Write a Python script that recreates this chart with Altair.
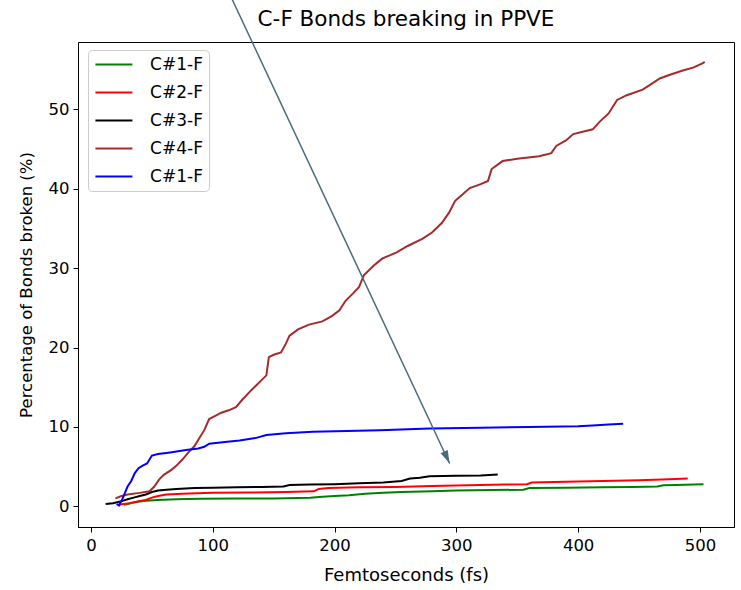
import altair as alt
import pandas as pd

# ---- series data: time (fs) and percentage of C-F bonds broken ----
series_labels = ["C#1-F", "C#2-F", "C#3-F", "C#4-F", "C#1-F"]
series_colors = ["green", "red", "black", "brown", "blue"]

green_fs = [27, 30, 35, 40, 45, 55, 70, 90, 120, 150, 180, 190, 200, 212, 225,
            240, 255, 280, 300, 330, 355, 360, 390, 420, 445, 465, 470, 480, 495, 503]
green_pct = [0.2, 0.3, 0.5, 0.6, 0.7, 0.8, 0.9, 0.95, 1.0, 1.0, 1.1, 1.2, 1.3, 1.4, 1.6,
             1.7, 1.8, 1.9, 2.0, 2.05, 2.1, 2.3, 2.35, 2.4, 2.45, 2.5, 2.65, 2.7, 2.75, 2.8]

red_fs = [22, 27, 32, 38, 45, 50, 55, 62, 75, 100, 130, 160, 183, 187, 195,
          220, 250, 280, 310, 340, 358, 362, 390, 420, 450, 475, 490]
red_pct = [0.2, 0.3, 0.4, 0.6, 0.8, 1.1, 1.3, 1.5, 1.6, 1.7, 1.75, 1.8, 1.9, 2.2, 2.3,
           2.4, 2.45, 2.55, 2.65, 2.75, 2.8, 3.0, 3.1, 3.2, 3.3, 3.4, 3.5]

black_fs = [12, 18, 24, 30, 35, 40, 45, 50, 55, 62, 70, 85, 100, 120, 140,
            158, 163, 180, 200, 220, 240, 255, 262, 270, 278, 300, 320, 334]
black_pct = [0.3, 0.4, 0.6, 0.9, 1.1, 1.3, 1.5, 1.8, 2.0, 2.1, 2.2, 2.3, 2.35, 2.4, 2.45,
             2.5, 2.7, 2.75, 2.8, 2.9, 3.0, 3.2, 3.5, 3.6, 3.8, 3.85, 3.9, 4.0]

brown_fs = [20, 25, 30, 40, 48, 52, 56, 60, 66, 70, 75, 80, 85, 89, 93,
            97, 102, 107, 113, 119, 124, 132, 136, 140, 144, 146, 150, 156, 160, 163,
            170, 179, 190, 198, 204, 209, 215, 220, 224, 232, 239, 251, 260, 272, 280,
            288, 294, 299, 305, 311, 320, 326, 329, 338, 350, 368, 378, 382, 390, 396,
            412, 418, 425, 432, 440, 453, 460, 467, 476, 486, 495, 502, 504]
brown_pct = [1.0, 1.3, 1.5, 1.7, 1.9, 2.5, 3.4, 4.0, 4.6, 5.1, 5.9, 6.8, 7.6, 8.6, 9.6,
             11.0, 11.4, 11.8, 12.1, 12.5, 13.4, 14.7, 15.3, 15.9, 16.5, 18.8, 19.1, 19.4, 20.5, 21.5,
             22.3, 22.9, 23.3, 24.0, 24.7, 25.9, 26.8, 27.6, 29.1, 30.3, 31.2, 32.0, 32.8, 33.7, 34.5,
             35.7, 37.0, 38.5, 39.3, 40.1, 40.6, 41.0, 42.5, 43.5, 43.8, 44.1, 44.5, 45.4, 46.1, 46.9,
             47.5, 48.5, 49.5, 51.2, 51.8, 52.5, 53.2, 53.9, 54.4, 54.9, 55.3, 55.8, 56.0]

blue_fs = [21, 23, 26, 30, 33, 36, 39, 42, 46, 50, 55, 65, 78, 88, 93,
           97, 110, 122, 135, 144, 160, 182, 210, 237, 278, 320, 360, 400, 412, 425, 437]
blue_pct = [0.3, 0.1, 1.0, 2.5, 3.2, 4.2, 4.8, 5.1, 5.4, 6.4, 6.6, 6.8, 7.1, 7.3, 7.5,
            7.9, 8.1, 8.3, 8.6, 9.0, 9.2, 9.4, 9.5, 9.6, 9.8, 9.9, 10.0, 10.1, 10.2, 10.3, 10.4]

x_ticks = [0, 100, 200, 300, 400, 500]
y_ticks = [0, 10, 20, 30, 40, 50]

# annotation arrow: tail (outside the axes, above) and head
arrow_tail = (115.5, 64.0)
arrow_head = (294.5, 5.4)

# ---- tidy table ----
all_fs = [green_fs, red_fs, black_fs, brown_fs, blue_fs]
all_pct = [green_pct, red_pct, black_pct, brown_pct, blue_pct]
keys = [f"{i} {lab}" for i, lab in enumerate(series_labels)]
rows = []
for key, xs, ys in zip(keys, all_fs, all_pct):
    for xv, yv in zip(xs, ys):
        rows.append({"series": key, "fs": xv, "pct": yv})
df = pd.DataFrame(rows)

arrow_df = pd.DataFrame([{"fs": arrow_tail[0], "pct": arrow_tail[1],
                          "fs2": arrow_head[0], "pct2": arrow_head[1]}])
head_df = pd.DataFrame([{"fs": arrow_head[0], "pct": arrow_head[1]}])

FONT = "DejaVu Sans"
arrow_color = "#4a6b7e"

x_enc = alt.X("fs:Q",
              scale=alt.Scale(domain=[-10.7, 528], nice=False, zero=False),
              axis=alt.Axis(values=x_ticks, title="Femtoseconds (fs)", grid=False,
                            titleY=53, titleBaseline="alphabetic",
                            titleFontSize=18, labelPadding=5))
y_enc = alt.Y("pct:Q",
              scale=alt.Scale(domain=[-2.6, 58.5], nice=False, zero=False),
              axis=alt.Axis(values=y_ticks, title="Percentage of Bonds broken (%)",
                            grid=False, titleX=-47, titleBaseline="alphabetic",
                            titleFontSize=16.5, labelPadding=4))

# legend line sample: a short custom stroke path, stretched past the unit box
legend_line = "M-3,0L3,0"

lines = alt.Chart(df).mark_line(strokeWidth=2).encode(
    x=x_enc,
    y=y_enc,
    color=alt.Color(
        "series:N",
        scale=alt.Scale(domain=keys, range=series_colors),
        legend=alt.Legend(
            title=None,
            orient="none",
            legendX=10,
            legendY=8,
            labelExpr="substring(datum.label, 2)",
            symbolType=legend_line,
            symbolSize=152,
            symbolStrokeWidth=2,
            symbolOffset=11.4,
            labelOffset=27.7,
            rowPadding=10,
            padding=6,
            strokeColor="#cccccc",
            fillColor="white",
            cornerRadius=4,
            labelFont=FONT,
            labelFontSize=17,
            labelColor="black",
        ),
    ),
)

arrow_line = alt.Chart(arrow_df).mark_rule(
    color=arrow_color, strokeWidth=1.5, clip=False
).encode(x=x_enc, y=y_enc, x2=alt.X2("fs2"), y2=alt.Y2("pct2"))

arrow_tip = alt.Chart(head_df).mark_point(
    shape="M0,0L-0.6,-2L0.6,-2Z",
    filled=True,
    size=169,
    angle=335,
    color=arrow_color,
    opacity=1,
    clip=False,
).encode(x=x_enc, y=y_enc)

chart = alt.layer(lines, arrow_line, arrow_tip).properties(
    width=656,
    height=485,
    autosize="none",
    background="white",
    padding={"left": 78, "top": 42, "right": 7, "bottom": 63},
    title=alt.TitleParams(
        text="C-F Bonds breaking in PPVE",
        font=FONT,
        fontSize=21.5,
        fontWeight="normal",
        color="black",
        anchor="middle",
        frame="group",
        baseline="alphabetic",
        offset=-50.4,
    ),
).configure_view(
    stroke="black", strokeWidth=1
).configure_axis(
    grid=False,
    domainColor="black",
    tickColor="black",
    tickSize=5,
    labelFont=FONT,
    labelFontSize=16.5,
    labelColor="black",
    titleFont=FONT,
    titleFontWeight="normal",
    titleColor="black",
)

chart.save("out.html", embed_options={"renderer": "svg", "actions": False})
